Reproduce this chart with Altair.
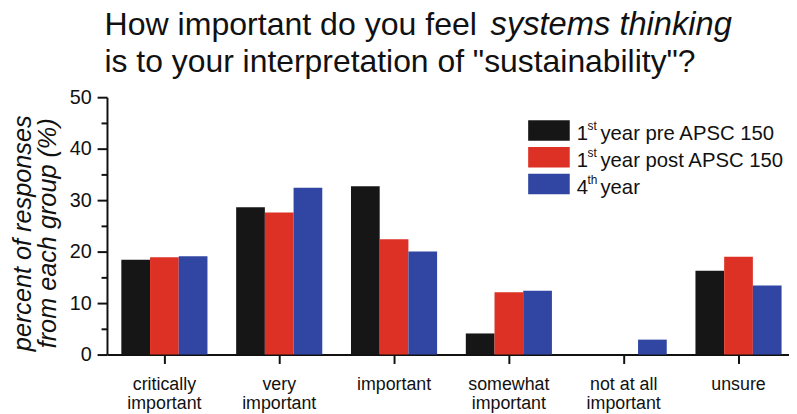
import altair as alt
import pandas as pd

categories = ["critically\nimportant", "very\nimportant", "important",
              "somewhat\nimportant", "not at all\nimportant", "unsure"]
groups = ["1st year pre APSC 150", "1st year post APSC 150", "4th year"]
pre_values = [18.4, 28.6, 32.7, 4.1, 0.0, 16.3]
post_values = [18.9, 27.6, 22.4, 12.1, 0.0, 19.0]
fourth_values = [19.1, 32.4, 20.0, 12.4, 2.9, 13.4]
colors = ["#161616", "#dc3124", "#3046a2"]

legend_main = ["1", "1", "4"]
legend_sup = ["st", "st", "th"]
legend_rest = ["year pre APSC 150", "year post APSC 150", "year"]

title_line1_plain = "How important do you feel"
title_line1_italic = "systems thinking"
title_line2 = 'is to your interpretation of "sustainability"?'
y_title = ["percent of responses", "from each group (%)"]

FONT = "Liberation Sans"

rows = []
for g, vals in zip(groups, [pre_values, post_values, fourth_values]):
    for c, v in zip(categories, vals):
        rows.append({"category": c, "group": g, "value": v})
df = pd.DataFrame(rows)

bars = alt.Chart(df).mark_bar().encode(
    x=alt.X(
        "category:N", sort=categories,
        scale=alt.Scale(range=[0, 696], paddingInner=0.25, paddingOuter=0.125),
        axis=alt.Axis(
            title=None, labelAngle=0,
            labelExpr="split(datum.label, '\\n')",
            labelFont=FONT, labelFontSize=18, labelLineHeight=20,
            labelPadding=12, labelColor="#111111", labelBaseline="top",
            tickSize=9, tickWidth=2, tickColor="#111111",
            domainWidth=2, domainColor="#111111",
        ),
    ),
    xOffset=alt.XOffset("group:N", sort=groups,
                        scale=alt.Scale(paddingInner=0, paddingOuter=0)),
    y=alt.Y(
        "value:Q",
        scale=alt.Scale(domain=[0, 50], nice=False),
        axis=alt.Axis(
            values=list(range(0, 51, 5)),
            labelExpr="datum.value % 10 === 0 ? datum.label : ''",
            labelFont=FONT, labelFontSize=20, labelColor="#111111", labelPadding=6,
            tickSize={"condition": {"test": "datum.value % 10 === 0", "value": 10}, "value": 6},
            tickWidth=2, tickColor="#111111",
            domainWidth=2, domainColor="#111111",
            title=y_title, titleFont=FONT, titleFontSize=25.5, titleFontStyle="italic",
            titleFontWeight="normal", titleColor="#111111", titleLineHeight=25,
            titleAngle=-90, titleAlign="center", titleBaseline="top",
            titleX=-97, titleY=137,
        ),
    ),
    color=alt.Color("group:N", sort=groups,
                    scale=alt.Scale(domain=groups, range=colors), legend=None),
)

layers = [bars]

def text_layer(txt, x, y, size, style="normal", align="left"):
    return alt.Chart(pd.DataFrame({"t": [txt]})).mark_text(
        font=FONT, fontSize=size, fontStyle=style, align=align,
        baseline="alphabetic", color="#111111",
    ).encode(text="t:N", x=alt.value(x), y=alt.value(y))

# title
layers.append(text_layer(title_line1_plain, -2.5, -63, 32.4))
layers.append(text_layer(title_line1_italic, 387.5, -63, 33, style="italic"))
layers.append(text_layer(title_line2, -2.5, -25, 32.2))

# legend
for i in range(3):
    top = 23.3 + 27 * i
    layers.append(
        alt.Chart(pd.DataFrame({"g": [groups[i]]})).mark_rect(color=colors[i]).encode(
            x=alt.value(425.5), x2=alt.value(467.5),
            y=alt.value(top), y2=alt.value(top + 20.7),
        )
    )
    base = 43.3 + 27 * i
    layers.append(text_layer(legend_main[i], 474.5, base, 20.5))
    layers.append(text_layer(legend_sup[i], 485.5, base - 10, 12))
    layers.append(text_layer(legend_rest[i], 498.5, base, 20.5))

chart = alt.layer(*layers).properties(
    width=689, height=260,
    autosize=alt.AutoSizeParams(type="none"),
    padding={"left": 100, "top": 88, "right": 0, "bottom": 64},
).configure_view(stroke=None).configure_axis(grid=False)

chart.save("out.html", embed_options={"renderer": "svg", "actions": False})
